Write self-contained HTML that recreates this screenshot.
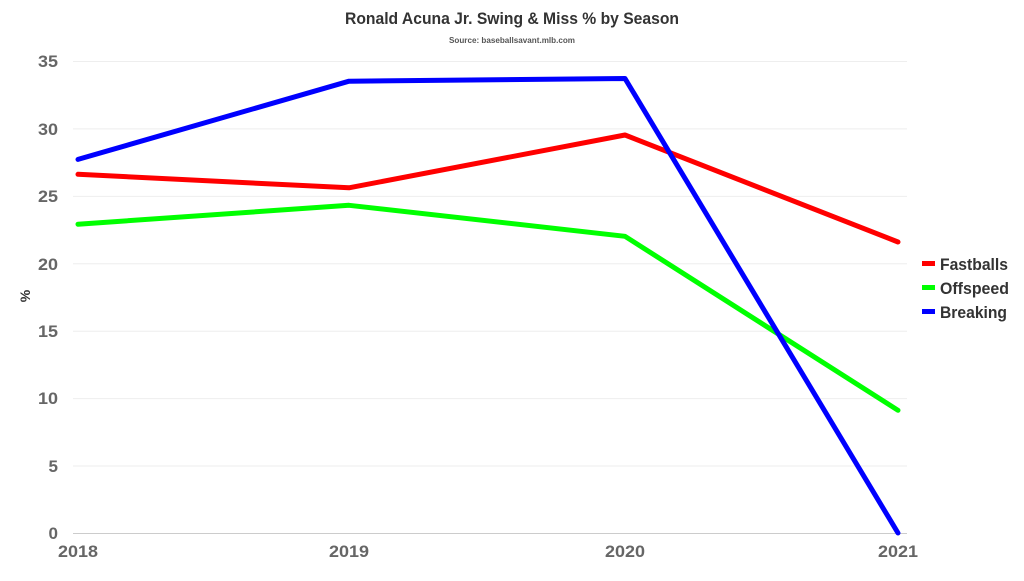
<!DOCTYPE html>
<html><head><meta charset="utf-8"><style>
body{margin:0;background:#fff;width:1024px;height:576px;overflow:hidden}
text{font-family:"Liberation Sans",sans-serif;font-weight:bold}
</style></head><body>
<svg width="1024" height="576" viewBox="0 0 1024 576">
<text x="512" y="24" text-anchor="middle" font-size="17" fill="#333" textLength="334" lengthAdjust="spacingAndGlyphs">Ronald Acuna Jr. Swing &amp; Miss % by Season</text>
<text x="512" y="43" text-anchor="middle" font-size="8" fill="#555" textLength="126" lengthAdjust="spacingAndGlyphs">Source: baseballsavant.mlb.com</text>
<g stroke="#eee" stroke-width="1">
<line x1="73" x2="907" y1="61.5" y2="61.5"/><line x1="73" x2="907" y1="128.9" y2="128.9"/>
<line x1="73" x2="907" y1="196.4" y2="196.4"/><line x1="73" x2="907" y1="263.8" y2="263.8"/>
<line x1="73" x2="907" y1="331.2" y2="331.2"/><line x1="73" x2="907" y1="398.6" y2="398.6"/>
<line x1="73" x2="907" y1="466" y2="466"/>
</g>
<line x1="73" x2="907" y1="533.5" y2="533.5" stroke="#ccc"/>
<g font-size="17" fill="#666" text-anchor="end">
<text x="58" y="67" textLength="20" lengthAdjust="spacingAndGlyphs">35</text>
<text x="58" y="135" textLength="20" lengthAdjust="spacingAndGlyphs">30</text>
<text x="58" y="202" textLength="20" lengthAdjust="spacingAndGlyphs">25</text>
<text x="58" y="270" textLength="20" lengthAdjust="spacingAndGlyphs">20</text>
<text x="58" y="337" textLength="20" lengthAdjust="spacingAndGlyphs">15</text>
<text x="58" y="404" textLength="20" lengthAdjust="spacingAndGlyphs">10</text>
<text x="58" y="472">5</text>
<text x="58" y="539">0</text>
</g>
<g font-size="17" fill="#666" text-anchor="middle">
<text x="78" y="557" textLength="40" lengthAdjust="spacingAndGlyphs">2018</text>
<text x="349" y="557" textLength="40" lengthAdjust="spacingAndGlyphs">2019</text>
<text x="625" y="557" textLength="40" lengthAdjust="spacingAndGlyphs">2020</text>
<text x="898" y="557" textLength="40" lengthAdjust="spacingAndGlyphs">2021</text>
</g>
<text x="30" y="296" font-size="14" fill="#333" text-anchor="middle" transform="rotate(-90 30 296)">%</text>
<g fill="none" stroke-width="5" stroke-linejoin="round" stroke-linecap="round">
<polyline stroke="#ff0000" points="78,174.3 349,187.8 625,135 898,242"/>
<polyline stroke="#00ff00" points="78,224.2 349,205.3 625,236.3 898,410.3"/>
<polyline stroke="#0000ff" points="78,159.4 349,81.2 625,78.5 898,533"/>
</g>
<rect x="922" y="261" width="13" height="5" fill="#ff0000"/>
<rect x="922" y="285" width="13" height="5" fill="#00ff00"/>
<rect x="922" y="309" width="13" height="5" fill="#0000ff"/>
<g font-size="17" fill="#333">
<text x="940" y="270" textLength="68" lengthAdjust="spacingAndGlyphs">Fastballs</text>
<text x="940" y="294" textLength="69" lengthAdjust="spacingAndGlyphs">Offspeed</text>
<text x="940" y="318" textLength="67" lengthAdjust="spacingAndGlyphs">Breaking</text>
</g>
</svg>
</body></html>
